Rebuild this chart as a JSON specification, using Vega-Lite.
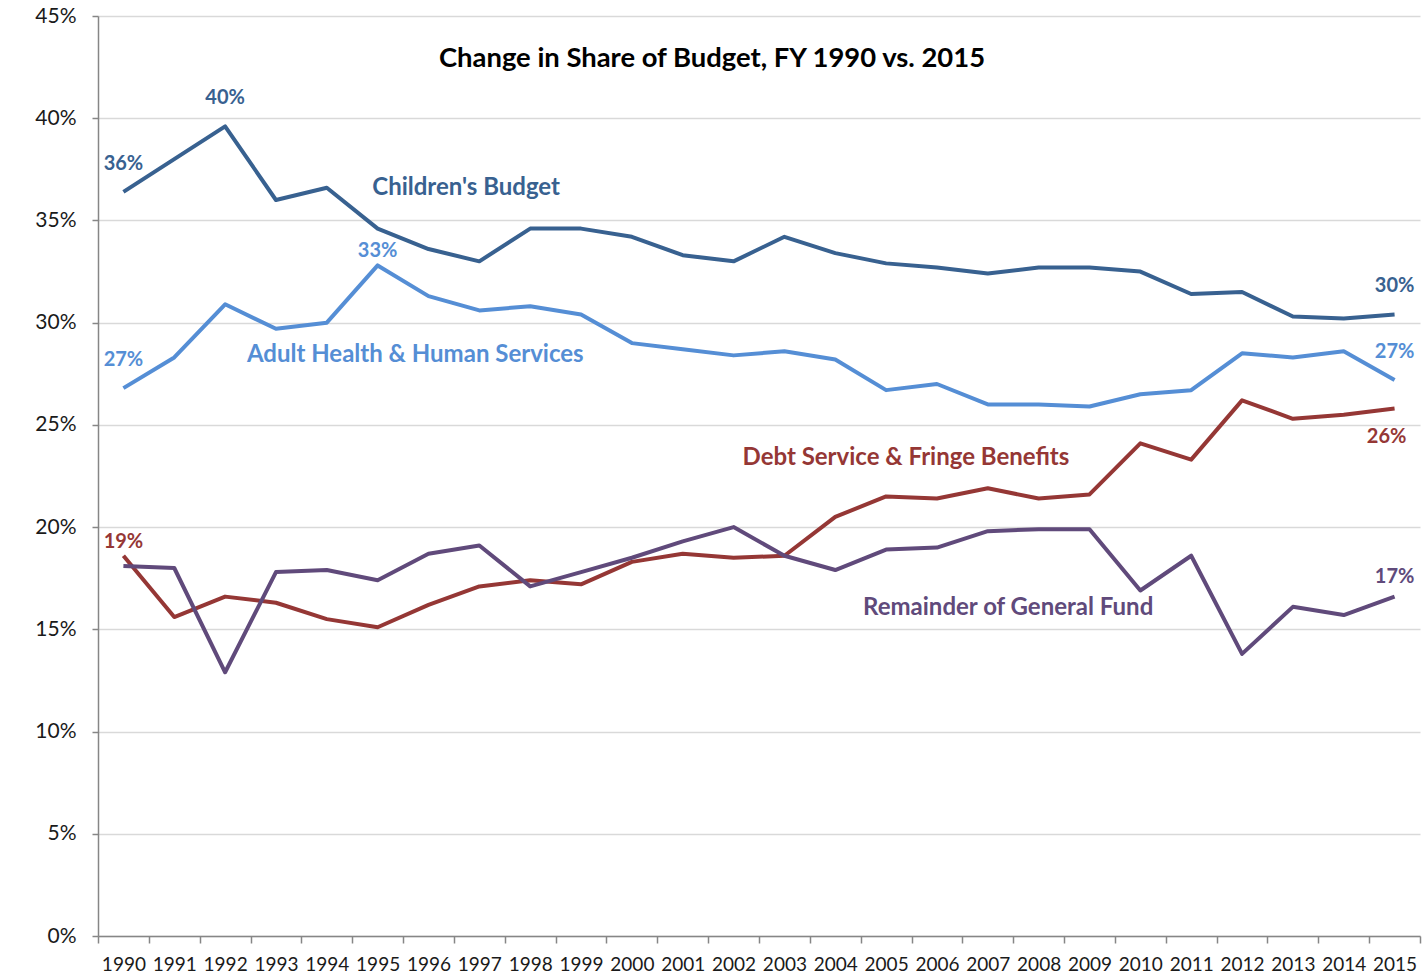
{
  "$schema": "https://vega.github.io/schema/vega-lite/v6.json",
  "width": 1322,
  "height": 920,
  "autosize": "none",
  "padding": {"left": 98, "top": 16, "right": 4, "bottom": 44},
  "background": "white",
  "config": {"view": {"stroke": null}, "font": "Lato", "text": {"font": "Lato"}},
  "title": {
    "text": "Change in Share of Budget, FY 1990 vs. 2015",
    "font": "Lato",
    "fontSize": 27.4,
    "fontWeight": "bold",
    "color": "#000000",
    "anchor": "middle",
    "frame": "group",
    "baseline": "middle",
    "offset": -81,
    "dx": -47
  },
  "datasets": {
    "budget": [
      {"series": "Children's Budget", "year": 1990, "value": 0.364},
      {"series": "Children's Budget", "year": 1991, "value": 0.380},
      {"series": "Children's Budget", "year": 1992, "value": 0.396},
      {"series": "Children's Budget", "year": 1993, "value": 0.360},
      {"series": "Children's Budget", "year": 1994, "value": 0.366},
      {"series": "Children's Budget", "year": 1995, "value": 0.346},
      {"series": "Children's Budget", "year": 1996, "value": 0.336},
      {"series": "Children's Budget", "year": 1997, "value": 0.330},
      {"series": "Children's Budget", "year": 1998, "value": 0.346},
      {"series": "Children's Budget", "year": 1999, "value": 0.346},
      {"series": "Children's Budget", "year": 2000, "value": 0.342},
      {"series": "Children's Budget", "year": 2001, "value": 0.333},
      {"series": "Children's Budget", "year": 2002, "value": 0.330},
      {"series": "Children's Budget", "year": 2003, "value": 0.342},
      {"series": "Children's Budget", "year": 2004, "value": 0.334},
      {"series": "Children's Budget", "year": 2005, "value": 0.329},
      {"series": "Children's Budget", "year": 2006, "value": 0.327},
      {"series": "Children's Budget", "year": 2007, "value": 0.324},
      {"series": "Children's Budget", "year": 2008, "value": 0.327},
      {"series": "Children's Budget", "year": 2009, "value": 0.327},
      {"series": "Children's Budget", "year": 2010, "value": 0.325},
      {"series": "Children's Budget", "year": 2011, "value": 0.314},
      {"series": "Children's Budget", "year": 2012, "value": 0.315},
      {"series": "Children's Budget", "year": 2013, "value": 0.303},
      {"series": "Children's Budget", "year": 2014, "value": 0.302},
      {"series": "Children's Budget", "year": 2015, "value": 0.304},
      {"series": "Adult Health & Human Services", "year": 1990, "value": 0.268},
      {"series": "Adult Health & Human Services", "year": 1991, "value": 0.283},
      {"series": "Adult Health & Human Services", "year": 1992, "value": 0.309},
      {"series": "Adult Health & Human Services", "year": 1993, "value": 0.297},
      {"series": "Adult Health & Human Services", "year": 1994, "value": 0.300},
      {"series": "Adult Health & Human Services", "year": 1995, "value": 0.328},
      {"series": "Adult Health & Human Services", "year": 1996, "value": 0.313},
      {"series": "Adult Health & Human Services", "year": 1997, "value": 0.306},
      {"series": "Adult Health & Human Services", "year": 1998, "value": 0.308},
      {"series": "Adult Health & Human Services", "year": 1999, "value": 0.304},
      {"series": "Adult Health & Human Services", "year": 2000, "value": 0.290},
      {"series": "Adult Health & Human Services", "year": 2001, "value": 0.287},
      {"series": "Adult Health & Human Services", "year": 2002, "value": 0.284},
      {"series": "Adult Health & Human Services", "year": 2003, "value": 0.286},
      {"series": "Adult Health & Human Services", "year": 2004, "value": 0.282},
      {"series": "Adult Health & Human Services", "year": 2005, "value": 0.267},
      {"series": "Adult Health & Human Services", "year": 2006, "value": 0.270},
      {"series": "Adult Health & Human Services", "year": 2007, "value": 0.260},
      {"series": "Adult Health & Human Services", "year": 2008, "value": 0.260},
      {"series": "Adult Health & Human Services", "year": 2009, "value": 0.259},
      {"series": "Adult Health & Human Services", "year": 2010, "value": 0.265},
      {"series": "Adult Health & Human Services", "year": 2011, "value": 0.267},
      {"series": "Adult Health & Human Services", "year": 2012, "value": 0.285},
      {"series": "Adult Health & Human Services", "year": 2013, "value": 0.283},
      {"series": "Adult Health & Human Services", "year": 2014, "value": 0.286},
      {"series": "Adult Health & Human Services", "year": 2015, "value": 0.272},
      {"series": "Debt Service & Fringe Benefits", "year": 1990, "value": 0.186},
      {"series": "Debt Service & Fringe Benefits", "year": 1991, "value": 0.156},
      {"series": "Debt Service & Fringe Benefits", "year": 1992, "value": 0.166},
      {"series": "Debt Service & Fringe Benefits", "year": 1993, "value": 0.163},
      {"series": "Debt Service & Fringe Benefits", "year": 1994, "value": 0.155},
      {"series": "Debt Service & Fringe Benefits", "year": 1995, "value": 0.151},
      {"series": "Debt Service & Fringe Benefits", "year": 1996, "value": 0.162},
      {"series": "Debt Service & Fringe Benefits", "year": 1997, "value": 0.171},
      {"series": "Debt Service & Fringe Benefits", "year": 1998, "value": 0.174},
      {"series": "Debt Service & Fringe Benefits", "year": 1999, "value": 0.172},
      {"series": "Debt Service & Fringe Benefits", "year": 2000, "value": 0.183},
      {"series": "Debt Service & Fringe Benefits", "year": 2001, "value": 0.187},
      {"series": "Debt Service & Fringe Benefits", "year": 2002, "value": 0.185},
      {"series": "Debt Service & Fringe Benefits", "year": 2003, "value": 0.186},
      {"series": "Debt Service & Fringe Benefits", "year": 2004, "value": 0.205},
      {"series": "Debt Service & Fringe Benefits", "year": 2005, "value": 0.215},
      {"series": "Debt Service & Fringe Benefits", "year": 2006, "value": 0.214},
      {"series": "Debt Service & Fringe Benefits", "year": 2007, "value": 0.219},
      {"series": "Debt Service & Fringe Benefits", "year": 2008, "value": 0.214},
      {"series": "Debt Service & Fringe Benefits", "year": 2009, "value": 0.216},
      {"series": "Debt Service & Fringe Benefits", "year": 2010, "value": 0.241},
      {"series": "Debt Service & Fringe Benefits", "year": 2011, "value": 0.233},
      {"series": "Debt Service & Fringe Benefits", "year": 2012, "value": 0.262},
      {"series": "Debt Service & Fringe Benefits", "year": 2013, "value": 0.253},
      {"series": "Debt Service & Fringe Benefits", "year": 2014, "value": 0.255},
      {"series": "Debt Service & Fringe Benefits", "year": 2015, "value": 0.258},
      {"series": "Remainder of General Fund", "year": 1990, "value": 0.181},
      {"series": "Remainder of General Fund", "year": 1991, "value": 0.180},
      {"series": "Remainder of General Fund", "year": 1992, "value": 0.129},
      {"series": "Remainder of General Fund", "year": 1993, "value": 0.178},
      {"series": "Remainder of General Fund", "year": 1994, "value": 0.179},
      {"series": "Remainder of General Fund", "year": 1995, "value": 0.174},
      {"series": "Remainder of General Fund", "year": 1996, "value": 0.187},
      {"series": "Remainder of General Fund", "year": 1997, "value": 0.191},
      {"series": "Remainder of General Fund", "year": 1998, "value": 0.171},
      {"series": "Remainder of General Fund", "year": 1999, "value": 0.178},
      {"series": "Remainder of General Fund", "year": 2000, "value": 0.185},
      {"series": "Remainder of General Fund", "year": 2001, "value": 0.193},
      {"series": "Remainder of General Fund", "year": 2002, "value": 0.200},
      {"series": "Remainder of General Fund", "year": 2003, "value": 0.186},
      {"series": "Remainder of General Fund", "year": 2004, "value": 0.179},
      {"series": "Remainder of General Fund", "year": 2005, "value": 0.189},
      {"series": "Remainder of General Fund", "year": 2006, "value": 0.190},
      {"series": "Remainder of General Fund", "year": 2007, "value": 0.198},
      {"series": "Remainder of General Fund", "year": 2008, "value": 0.199},
      {"series": "Remainder of General Fund", "year": 2009, "value": 0.199},
      {"series": "Remainder of General Fund", "year": 2010, "value": 0.169},
      {"series": "Remainder of General Fund", "year": 2011, "value": 0.186},
      {"series": "Remainder of General Fund", "year": 2012, "value": 0.138},
      {"series": "Remainder of General Fund", "year": 2013, "value": 0.161},
      {"series": "Remainder of General Fund", "year": 2014, "value": 0.157},
      {"series": "Remainder of General Fund", "year": 2015, "value": 0.166}
    ],
    "notes": [
      {"series": "Children's Budget", "label": "Children's Budget", "year": 1996.74, "value": 0.3658},
      {"series": "Adult Health & Human Services", "label": "Adult Health & Human Services", "year": 1995.74, "value": 0.2841},
      {"series": "Debt Service & Fringe Benefits", "label": "Debt Service & Fringe Benefits", "year": 2005.39, "value": 0.2337},
      {"series": "Remainder of General Fund", "label": "Remainder of General Fund", "year": 2007.40, "value": 0.1604}
    ]
  },
  "encoding": {
    "x": {
      "field": "year",
      "type": "quantitative",
      "scale": {"domain": [1989.5, 2015.5], "nice": false, "zero": false},
      "axis": {
        "title": null,
        "values": [1989.5, 1990.5, 1991.5, 1992.5, 1993.5, 1994.5, 1995.5, 1996.5, 1997.5, 1998.5, 1999.5, 2000.5, 2001.5, 2002.5, 2003.5, 2004.5, 2005.5, 2006.5, 2007.5, 2008.5, 2009.5, 2010.5, 2011.5, 2012.5, 2013.5, 2014.5, 2015.5],
        "labelExpr": "datum.value < 2015 ? format(datum.value + 0.5, 'd') : ''",
        "labelOffset": 25.42,
        "labelOverlap": false,
        "labelFlush": false,
        "labelBound": false,
        "grid": false,
        "tickSize": 7,
        "tickWidth": 1.5,
        "tickColor": "#868686",
        "domainColor": "#868686",
        "domainWidth": 1.5,
        "labelPadding": 12,
        "labelFont": "Lato",
        "labelFontSize": 19,
        "labelColor": "#1a1a1a"
      }
    },
    "y": {
      "field": "value",
      "type": "quantitative",
      "scale": {"domain": [0, 0.45], "nice": false},
      "axis": {
        "title": null,
        "values": [0, 0.05, 0.1, 0.15, 0.2, 0.25, 0.3, 0.35, 0.4, 0.45],
        "format": ".0%",
        "grid": true,
        "gridColor": "#D9D9D9",
        "gridWidth": 1.5,
        "tickSize": 6,
        "tickWidth": 1.5,
        "tickColor": "#868686",
        "domainColor": "#868686",
        "domainWidth": 1.5,
        "labelPadding": 16,
        "labelFont": "Lato",
        "labelFontSize": 21,
        "labelColor": "#1a1a1a"
      }
    },
    "color": {
      "field": "series",
      "type": "nominal",
      "legend": null,
      "scale": {
        "domain": ["Children's Budget", "Adult Health & Human Services", "Debt Service & Fringe Benefits", "Remainder of General Fund"],
        "range": ["#386190", "#558ED5", "#953735", "#604A7B"]
      }
    }
  },
  "layer": [
    {
      "data": {"name": "budget"},
      "mark": {"type": "line", "strokeWidth": 4, "strokeJoin": "round"}
    },
    {
      "data": {"name": "budget"},
      "transform": [{"filter": "(datum.series == \"Children's Budget\" && (datum.year == 1990 || datum.year == 1992 || datum.year == 2015)) || (datum.series == 'Adult Health & Human Services' && (datum.year == 1990 || datum.year == 2015))"}],
      "mark": {"type": "text", "fontSize": 20, "fontWeight": "bold", "baseline": "middle", "align": "center", "dy": -28},
      "encoding": {"text": {"field": "value", "type": "quantitative", "format": ".0%"}}
    },
    {
      "data": {"name": "budget"},
      "transform": [{"filter": "(datum.series == 'Adult Health & Human Services' && datum.year == 1995) || (datum.series == 'Debt Service & Fringe Benefits' && datum.year == 1990)"}],
      "mark": {"type": "text", "fontSize": 20, "fontWeight": "bold", "baseline": "middle", "align": "center", "dy": -14},
      "encoding": {"text": {"field": "value", "type": "quantitative", "format": ".0%"}}
    },
    {
      "data": {"name": "budget"},
      "transform": [{"filter": "datum.series == 'Remainder of General Fund' && datum.year == 2015"}],
      "mark": {"type": "text", "fontSize": 20, "fontWeight": "bold", "baseline": "middle", "align": "center", "dy": -20},
      "encoding": {"text": {"field": "value", "type": "quantitative", "format": ".0%"}}
    },
    {
      "data": {"name": "budget"},
      "transform": [{"filter": "datum.series == 'Debt Service & Fringe Benefits' && datum.year == 2015"}],
      "mark": {"type": "text", "fontSize": 20, "fontWeight": "bold", "baseline": "middle", "align": "center", "dy": 28, "dx": -8},
      "encoding": {"text": {"field": "value", "type": "quantitative", "format": ".0%"}}
    },
    {
      "data": {"name": "notes"},
      "mark": {"type": "text", "fontSize": 24, "fontWeight": "bold", "baseline": "middle", "align": "center"},
      "encoding": {"text": {"field": "label", "type": "nominal"}}
    }
  ]
}
